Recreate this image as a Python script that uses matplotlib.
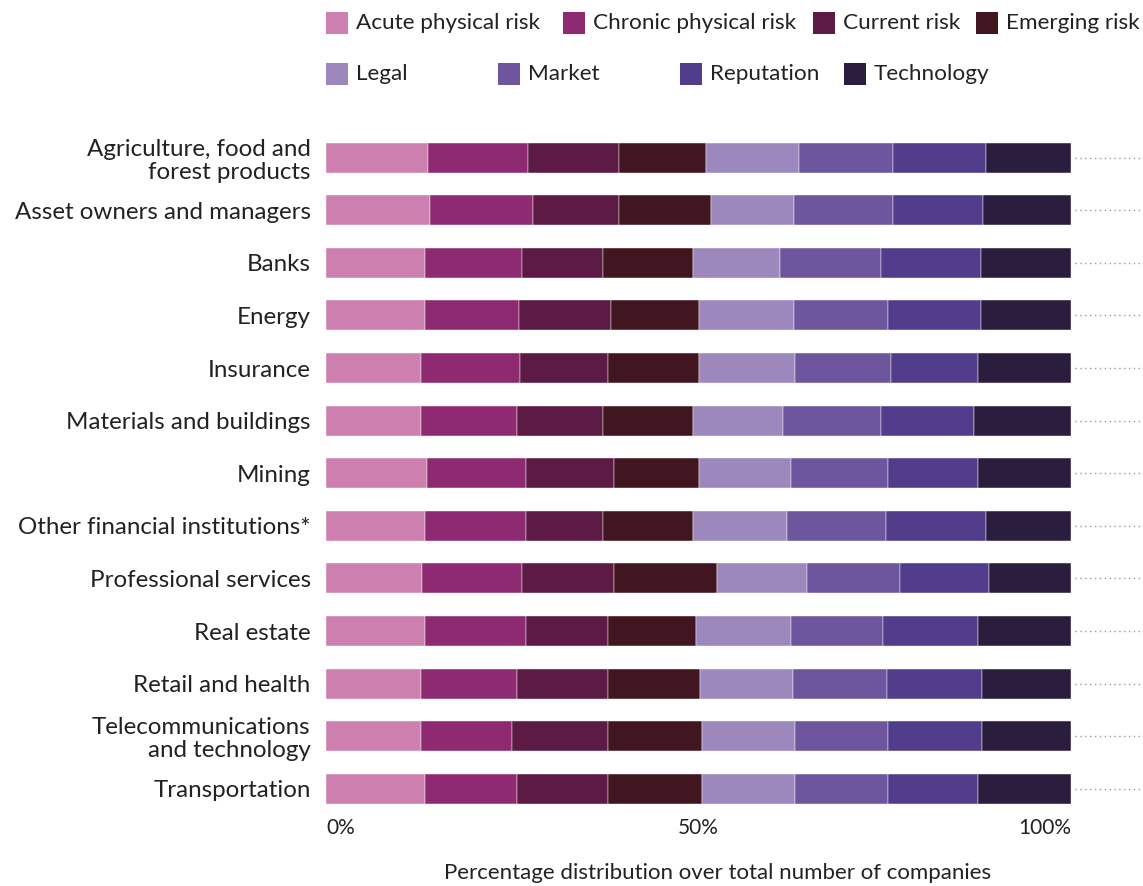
import numpy as np
import matplotlib
matplotlib.use('Agg')
import matplotlib.pyplot as plt
from matplotlib.patches import Rectangle

plt.rcParams['font.family'] = ['Lato', 'DejaVu Sans']

# Sectors (top to bottom)
sectors = ['Agriculture, food and\nforest products', 'Asset owners and managers', 'Banks',
           'Energy', 'Insurance', 'Materials and buildings', 'Mining',
           'Other financial institutions*', 'Professional services', 'Real estate',
           'Retail and health', 'Telecommunications\nand technology', 'Transportation']

risk_types = ['Acute physical risk', 'Chronic physical risk', 'Current risk', 'Emerging risk',
              'Legal', 'Market', 'Reputation', 'Technology']

# Percentage share per risk type, one list per risk type (same order as sectors)
acute      = [13.7, 14.0, 13.3, 13.3, 12.8, 12.8, 13.6, 13.3, 12.9, 13.3, 12.8, 12.8, 13.3]
chronic    = [13.4, 13.8, 13.0, 12.6, 13.2, 12.9, 13.2, 13.5, 13.4, 13.5, 12.9, 12.2, 12.4]
current    = [12.2, 11.5, 10.9, 12.3, 11.8, 11.5, 11.9, 10.4, 12.4, 11.0, 12.2, 12.8, 12.1]
emerging   = [11.7, 12.4, 12.1, 11.8, 12.2, 12.1, 11.3, 12.1, 13.8, 11.8, 12.3, 12.7, 12.7]
legal      = [12.5, 11.1, 11.6, 12.8, 13.0, 12.0, 12.4, 12.6, 12.1, 12.8, 12.5, 12.5, 12.5]
market     = [12.6, 13.3, 13.6, 12.6, 12.8, 13.2, 13.0, 13.2, 12.4, 12.4, 12.6, 12.4, 12.4]
reputation = [12.5, 12.1, 13.4, 12.5, 11.7, 12.5, 12.1, 13.5, 12.0, 12.7, 12.7, 12.6, 12.1]
technology = [11.4, 11.8, 12.1, 12.1, 12.5, 13.0, 12.5, 11.4, 11.0, 12.5, 12.0, 12.0, 12.5]

colors = ['#cd7fb0', '#8e2a72', '#5c1a45', '#421620',
          '#9d88be', '#6e569e', '#523c8c', '#2b1d3d']

series = [acute, chronic, current, emerging, legal, market, reputation, technology]

fig = plt.figure(figsize=(11.43, 8.86), dpi=100)
ax = fig.add_axes([326 / 1143, 1 - 815.3 / 886, 817 / 1143, (815.3 - 131.2) / 886])

y = np.arange(len(sectors))
left = np.zeros(len(sectors))
for vals, col, name in zip(series, colors, risk_types):
    vals = np.array(vals)
    ax.barh(y, vals, left=left, height=0.57, color=col, edgecolor='#ffffff',
            linewidth=0.3, label=name)
    left += vals

# dotted guide lines to the right of each bar
ax.hlines(y, left + 0.5, 109.4, colors='#999999', linestyles=(0, (1, 2.5)), linewidth=1)

ax.set_xlim(0, 109.66)
ax.set_ylim(len(sectors) - 0.5, -0.5)
ax.set_yticks(y)
ax.set_yticklabels(sectors, fontsize=17.4, color='#222222', linespacing=1.12)
ax.set_xticks([0, 50, 100])
ax.set_xticklabels(['0%', '50%', '100%'], fontsize=15, color='#222222')
xt = ax.get_xticklabels()
xt[0].set_ha('left')
xt[2].set_ha('right')
ax.tick_params(axis='both', length=0)
ax.tick_params(axis='y', pad=11)
ax.tick_params(axis='x', pad=2)
for s in ax.spines.values():
    s.set_visible(False)

fig.text(718 / 1143, 1 - 873 / 886, 'Percentage distribution over total number of companies',
         ha='center', va='center', fontsize=16.0, color='#222222')

# legend, two rows laid out like the original
leg_pos = [(326, 23), (563, 23), (813, 23), (976, 23),
           (326, 74), (498, 74), (680, 74), (844, 74)]
for (px, py), col, name in zip(leg_pos, colors, risk_types):
    fig.patches.append(Rectangle((px / 1143, 1 - (py + 11) / 886), 22 / 1143, 22 / 886,
                                 transform=fig.transFigure, facecolor=col, edgecolor='none'))
    fig.text((px + 30) / 1143, 1 - py / 886, name, ha='left', va='center',
             fontsize=16.2, color='#222222')

fig.savefig('out.png', dpi=100)
